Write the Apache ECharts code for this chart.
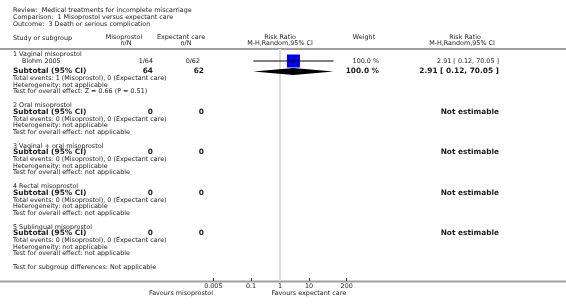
<!DOCTYPE html>
<html>
<head>
<meta charset="utf-8">
<script src="https://cdn.jsdelivr.net/npm/echarts@6/dist/echarts.min.js"></script>
<style>
  html, body { margin: 0; padding: 0; background: #fff; }
  #chart { width: 566px; height: 305px; }
</style>
</head>
<body>
<div id="chart"></div>
<script>
// title block
const titleLines = [
  "Review:  Medical treatments for incomplete miscarriage",
  "Comparison:  1 Misoprostol versus expectant care",
  "Outcome:  3 Death or serious complication",
];

// subgroups
const groups = [
  "1 Vaginal misoprostol",
  "2 Oral misoprostol",
  "3 Vaginal + oral misoprostol",
  "4 Rectal misoprostol",
  "5 Sublingual misoprostol",
];
const subMisoN = [64, 0, 0, 0, 0];
const subExpN = [62, 0, 0, 0, 0];
const subMisoEvents = [1, 0, 0, 0, 0];
const subExpEvents = [0, 0, 0, 0, 0];
const subRR = [2.91, null, null, null, null];
const subLow = [0.12, null, null, null, null];
const subHigh = [70.05, null, null, null, null];
const subWeight = [100.0, null, null, null, null];
const subEffect = ["Z = 0.66 (P = 0.51)", "not applicable", "not applicable", "not applicable", "not applicable"];

// individual studies
const studyNames = ["Blohm 2005"];
const studyGroup = [0];
const studyMisoEv = [1];
const studyMisoN = [64];
const studyExpEv = [0];
const studyExpN = [62];
const studyRR = [2.91];
const studyLow = [0.12];
const studyHigh = [70.05];
const studyWeight = [100.0];

// axis
const tickValues = [0.005, 0.1, 1, 10, 200];

const chart = echarts.init(document.getElementById("chart"), null, { renderer: "canvas" });

const FONT = '"DejaVu Sans", Verdana, sans-serif';
const INK = "#1a1a1a";

const fmtCI = (r, l, h) => `${r.toFixed(2)} [ ${l.toFixed(2)}, ${h.toFixed(2)} ]`;
const fmtW = (w) => `${w.toFixed(1)} %`;

const txt = (x, y, s, opt = {}) => ({
  type: "text",
  x: x,
  y: y,
  silent: true,
  style: {
    text: s,
    fontFamily: FONT,
    fontSize: opt.size || 6.4,
    fontWeight: opt.bold ? "bold" : "normal",
    fill: INK,
    align: opt.align || "left",
    verticalAlign: "middle",
    textAlign: opt.align || "left",
    textVerticalAlign: "middle",
  },
});

// row layout (pixel y of each line)
const graphics = [];
const studyPoints = [];
const diamondPoints = [];

titleLines.forEach((t, i) => graphics.push(txt(13, 10.8 + i * 7, t)));

// header
graphics.push(txt(13, 38, "Study or subgroup"));
graphics.push(txt(124, 37.5, "Misoprostol", { align: "center" }));
graphics.push(txt(126, 43.5, "n/N", { align: "center" }));
graphics.push(txt(181, 37.5, "Expectant care", { align: "center" }));
graphics.push(txt(186, 43.5, "n/N", { align: "center" }));
graphics.push(txt(280, 37, "Risk Ratio", { align: "center" }));
graphics.push(txt(280, 43.5, "M-H,Random,95% CI", { align: "center" }));
graphics.push(txt(364, 37.5, "Weight", { align: "center" }));
graphics.push(txt(465, 37, "Risk Ratio", { align: "center" }));
graphics.push(txt(462, 43.5, "M-H,Random,95% CI", { align: "center" }));
graphics.push({
  type: "line", silent: true,
  shape: { x1: 0, y1: 49, x2: 566, y2: 49 },
  style: { stroke: "#a0a0a0", lineWidth: 2 },
});

let y = 54;
groups.forEach((g, gi) => {
  graphics.push(txt(13, y, g));
  let hasStudy = false;
  studyNames.forEach((s, si) => {
    if (studyGroup[si] !== gi) return;
    y += 7;
    hasStudy = true;
    graphics.push(txt(22, y, s));
    graphics.push(txt(153, y, `${studyMisoEv[si]}/${studyMisoN[si]}`, { align: "right" }));
    graphics.push(txt(200, y, `${studyExpEv[si]}/${studyExpN[si]}`, { align: "right" }));
    graphics.push(txt(379, y, fmtW(studyWeight[si]), { align: "right" }));
    graphics.push(txt(499, y, fmtCI(studyRR[si], studyLow[si], studyHigh[si]), { align: "right" }));
    studyPoints.push([studyRR[si], studyLow[si], studyHigh[si], y, studyWeight[si]]);
  });
  y += hasStudy ? 10.5 : 6.5;
  const B = { bold: true, size: 7.4 };
  graphics.push(txt(13, y, "Subtotal (95% CI)", B));
  graphics.push(txt(153, y, String(subMisoN[gi]), { ...B, align: "right" }));
  graphics.push(txt(204, y, String(subExpN[gi]), { ...B, align: "right" }));
  if (subRR[gi] != null) {
    graphics.push(txt(379, y, fmtW(subWeight[gi]), { ...B, align: "right" }));
    graphics.push(txt(499, y, fmtCI(subRR[gi], subLow[gi], subHigh[gi]), { ...B, align: "right" }));
    diamondPoints.push([subRR[gi], subLow[gi], subHigh[gi], y]);
  } else {
    graphics.push(txt(499, y, "Not estimable", { ...B, align: "right" }));
  }
  y += 7;
  graphics.push(txt(13, y, `Total events: ${subMisoEvents[gi]} (Misoprostol), ${subExpEvents[gi]} (Expectant care)`));
  y += 6.5;
  graphics.push(txt(13, y, "Heterogeneity: not applicable"));
  y += 6.5;
  graphics.push(txt(13, y, `Test for overall effect: ${subEffect[gi]}`));
  y += 14;
});
graphics.push(txt(13, y, "Test for subgroup differences: Not applicable"));

// bottom rule + favours labels
graphics.push({
  type: "line", silent: true,
  shape: { x1: 0, y1: 281.5, x2: 566, y2: 281.5 },
  style: { stroke: "#a0a0a0", lineWidth: 2 },
});
graphics.push(txt(213, 293.5, "Favours misoprostol", { align: "right" }));
graphics.push(txt(271.5, 293.5, "Favours expectant care"));

const option = {
  backgroundColor: "#fff",
  animation: false,
  grid: { left: 213.3, width: 133.4, top: 49, height: 232 },
  xAxis: {
    type: "log",
    logBase: 10,
    min: 0.005,
    max: 200,
    axisLine: { show: false },
    splitLine: { show: false },
    axisTick: {
      show: true,
      inside: true,
      length: 3,
      customValues: tickValues,
      lineStyle: { color: "#333", width: 1 },
    },
    axisLabel: {
      customValues: tickValues,
      margin: 2.5,
      fontSize: 6.4,
      fontFamily: FONT,
      color: INK,
      formatter: (v) => String(+Number(v).toPrecision(3)),
    },
  },
  yAxis: {
    type: "value",
    inverse: true,
    min: 49,
    max: 281,
    show: false,
  },
  series: [
    {
      type: "custom",
      name: "studies",
      data: studyPoints,
      encode: { x: 0, y: 3 },
      renderItem: (params, api) => {
        const yy = api.value(3);
        const c = api.coord([api.value(0), yy]);
        const lo = api.coord([api.value(1), yy]);
        const hi = api.coord([api.value(2), yy]);
        const s = 13 * Math.sqrt(api.value(4) / 100);
        return {
          type: "group",
          children: [
            { type: "rect", shape: { x: c[0] - s / 2, y: c[1] - s / 2, width: s, height: s }, style: { fill: "#0000ff" } },
            { type: "line", shape: { x1: lo[0], y1: c[1], x2: hi[0], y2: c[1] }, style: { stroke: "#000", lineWidth: 1 } },
            { type: "line", shape: { x1: c[0], y1: c[1] - 2, x2: c[0], y2: c[1] + 2 }, style: { stroke: "#000", lineWidth: 1 } },
          ],
        };
      },
      z: 5,
    },
    {
      type: "custom",
      name: "subtotals",
      data: diamondPoints,
      encode: { x: 0, y: 3 },
      renderItem: (params, api) => {
        const yy = api.value(3);
        const c = api.coord([api.value(0), yy]);
        const lo = api.coord([api.value(1), yy]);
        const hi = api.coord([api.value(2), yy]);
        const h = 3.5;
        return {
          type: "polygon",
          shape: { points: [[lo[0], c[1]], [c[0], c[1] - h], [hi[0], c[1]], [c[0], c[1] + h]] },
          style: { fill: "#000" },
        };
      },
      markLine: {
        silent: true,
        symbol: "none",
        label: { show: false },
        lineStyle: { color: "#dcdcdc", width: 2, type: "solid" },
        data: [{ xAxis: 1 }],
        z: 1,
      },
      z: 5,
    },
  ],
  graphic: graphics,
};

chart.setOption(option);
</script>
</body>
</html>
